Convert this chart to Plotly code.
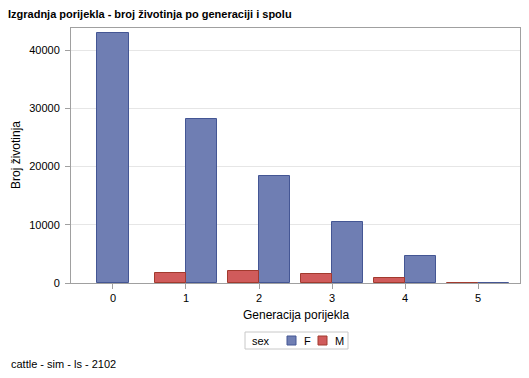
import plotly.graph_objects as go

generations = [0, 1, 2, 3, 4, 5]
females = [43000, 28100, 18400, 10400, 4700, 60]
males = [None, 1740, 2120, 1570, 880, 40]
y_ticks = [0, 10000, 20000, 30000, 40000]
y_tick_labels = ["0", "10000", "20000", "30000", "40000"]
legend_items = [("F", "#6F7EB3", "#445694"), ("M", "#D05B5B", "#A23A2E")]

W = 0.43
f_offset = [(-W / 2 if m is None else 0) for m in males]
m_offset = [-W for _ in males]

font = "Liberation Sans, Arial, sans-serif"
fig = go.Figure()
fig.add_trace(go.Bar(
    x=generations, y=females, name="F", width=W, offset=f_offset,
    marker=dict(color=legend_items[0][1], line=dict(color=legend_items[0][2], width=1)),
))
fig.add_trace(go.Bar(
    x=generations, y=males, name="M", width=W, offset=m_offset,
    marker=dict(color=legend_items[1][1], line=dict(color=legend_items[1][2], width=1)),
))

L, R, T, B = 71, 9, 28, 95
pw, ph = 529 - L - R, 378 - T - B


def px(x):
    return (x - L) / pw


def py(y):
    return (T + ph - y) / ph


fig.update_layout(
    width=529, height=378, barmode="overlay",
    margin=dict(l=L, r=R, t=T, b=B, pad=0, autoexpand=False),
    paper_bgcolor="white", plot_bgcolor="white",
    font=dict(family=font, size=11, color="black"),
    title=dict(text="<b>Izgradnja porijekla - broj životinja po generaciji i spolu</b>",
               x=8 / 529, xanchor="left", xref="container",
               y=1 - 14 / 378, yanchor="middle", yref="container",
               font=dict(size=11, family=font)),
    showlegend=False,
    bargap=0,
)
fig.update_xaxes(
    range=[-0.575, 5.575], tickmode="array", tickvals=generations,
    ticktext=[str(g) for g in generations],
    showgrid=False, ticks="outside", ticklen=5, tickcolor="#A0A0A0",
    showline=True, linecolor="#A0A0A0", mirror=True, zeroline=False,
    tickfont=dict(size=11), automargin=False,
)
fig.update_yaxes(
    range=[0, 43780], tickmode="array", tickvals=y_ticks, ticktext=y_tick_labels,
    showgrid=True, gridcolor="#E6E6E6", ticks="outside", ticklen=5,
    tickcolor="#A0A0A0", showline=True, linecolor="#A0A0A0", mirror=True,
    zeroline=False, tickfont=dict(size=11), ticklabelstandoff=3, automargin=False,
)
fig.add_annotation(text="Generacija porijekla", xref="paper", yref="paper",
                   x=0.5, y=py(315), xanchor="center", yanchor="middle",
                   showarrow=False, font=dict(size=12))
fig.add_annotation(text="Broj životinja", xref="paper", yref="paper",
                   x=px(16), y=py(155), xanchor="center", yanchor="middle",
                   textangle=-90, showarrow=False, font=dict(size=12))
fig.add_annotation(text="cattle - sim - ls - 2102", xref="paper", yref="paper",
                   x=px(9), y=py(364), xanchor="left", yanchor="middle",
                   showarrow=False, font=dict(size=11))

# legend box
fig.add_shape(type="rect", xref="paper", yref="paper",
              x0=px(245), x1=px(348), y0=py(332), y1=py(349),
              line=dict(color="#C8C8C8", width=1), fillcolor="white")
fig.add_annotation(text="sex", xref="paper", yref="paper", x=px(250), y=py(340.5),
                   xanchor="left", yanchor="middle", showarrow=False, font=dict(size=11))
for (name, fill, edge), sx in zip(legend_items, [287, 318]):
    fig.add_shape(type="rect", xref="paper", yref="paper",
                  x0=px(sx), x1=px(sx + 9), y0=py(336), y1=py(345),
                  line=dict(color=edge, width=1), fillcolor=fill)
    fig.add_annotation(text=name, xref="paper", yref="paper", x=px(sx + 15), y=py(340.5),
                       xanchor="left", yanchor="middle", showarrow=False, font=dict(size=11))

fig.write_html("out.html", config={"displayModeBar": False},
               post_script="document.body.style.margin='0';document.body.style.overflow='hidden';")
